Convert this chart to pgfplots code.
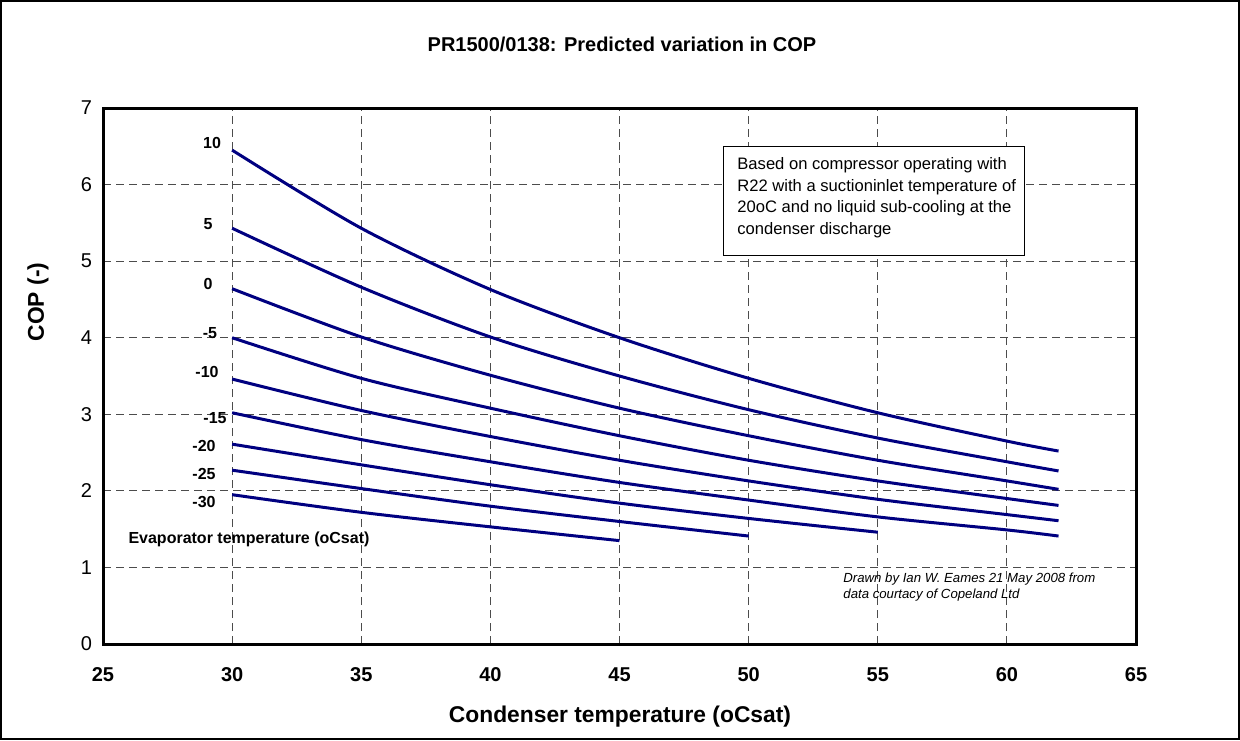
\documentclass[border=0pt]{standalone}
\usepackage{pgfplots}
\pgfplotsset{compat=1.18}
\usepackage{fontspec}
\setmainfont{Liberation Sans}
\definecolor{navy}{RGB}{0,0,128}
\begin{document}
\begin{tikzpicture}[x=1pt,y=1pt]
\useasboundingbox (0,0) rectangle (620,370);
\draw[line width=1pt] (0.5,0.5) rectangle (619.5,369.5);
\begin{axis}[
  at={(51.5pt,48pt)}, anchor=south west,
  scale only axis, width=516.5pt, height=268pt,
  xmin=25, xmax=65, ymin=0, ymax=7,
  xtick={25,30,...,65}, ytick={0,1,...,7},
  grid=major,
  major grid style={black!70, line width=0.5pt, dash pattern=on 4pt off 2.5pt},
  axis line style={line width=1.5pt},
  tick style={draw=none},
  /pgf/number format/assume math mode=true,
  yticklabel style={font=\fontsize{10}{12}\selectfont, xshift=-2pt},
  xticklabel style={font=\bfseries\fontsize{10}{12}\selectfont, text height=7.2pt, text depth=0pt, yshift=-8pt},
  clip=false,
]
\addplot[navy, line width=1.5pt, smooth] coordinates {(30,6.45) (35,5.43) (40,4.63) (45,4.00) (50,3.47) (55,3.02) (60,2.65) (62,2.52)};
\addplot[navy, line width=1.5pt, smooth] coordinates {(30,5.43) (35,4.66) (40,4.01) (45,3.50) (50,3.06) (55,2.69) (60,2.38) (62,2.26)};
\addplot[navy, line width=1.5pt, smooth] coordinates {(30,4.64) (35,4.01) (40,3.51) (45,3.08) (50,2.72) (55,2.40) (60,2.13) (62,2.02)};
\addplot[navy, line width=1.5pt, smooth] coordinates {(30,4.00) (35,3.47) (40,3.08) (45,2.72) (50,2.40) (55,2.13) (60,1.90) (62,1.81)};
\addplot[navy, line width=1.5pt, smooth] coordinates {(30,3.46) (35,3.05) (40,2.71) (45,2.40) (50,2.13) (55,1.89) (60,1.69) (62,1.61)};
\addplot[navy, line width=1.5pt, smooth] coordinates {(30,3.02) (35,2.67) (40,2.38) (45,2.11) (50,1.88) (55,1.66) (60,1.49) (62,1.41)};
\addplot[navy, line width=1.5pt, smooth] coordinates {(30,2.61) (35,2.34) (40,2.08) (45,1.84) (50,1.64) (55,1.46)};
\addplot[navy, line width=1.5pt, smooth] coordinates {(30,2.27) (35,2.03) (40,1.80) (45,1.60) (50,1.41)};
\addplot[navy, line width=1.5pt, smooth] coordinates {(30,1.95) (35,1.72) (40,1.53) (45,1.35)};
\end{axis}
% titles
\node[font=\bfseries\fontsize{10}{12}\selectfont] at (311,348) {PR1500/0138: Predicted variation in COP};
\node[font=\bfseries\fontsize{11.4}{13}\selectfont, rotate=90] at (19,219) {COP (-)};
\node[font=\bfseries\fontsize{11.4}{13}\selectfont] at (310,11.5) {Condenser temperature (oCsat)};
% curve labels
\begin{scope}[every node/.style={font=\bfseries\fontsize{8}{9}\selectfont, inner sep=0pt}]
\node at (106,298.5) {10};
\node at (104,258) {5};
\node at (104,228) {0};
\node at (105,203.5) {-5};
\node at (103.5,184) {-10};
\node at (107.5,161) {-15};
\node at (102,147) {-20};
\node at (102,133) {-25};
\node at (102,119) {-30};
\node at (124.5,100.5) {Evaporator temperature (oCsat)};
\end{scope}
% text box
\draw[fill=white, line width=0.5pt] (361.5,296.5) rectangle (512,242);
\node[anchor=north west, align=left, inner sep=0pt, font=\fontsize{8.3}{10.8}\selectfont] at (368.5,291.5) {Based on compressor operating with\\R22 with a suctioninlet temperature of\\20oC and no liquid sub-cooling at the\\condenser discharge};
\node[anchor=north west, align=left, inner sep=0pt, font=\itshape\fontsize{6.6}{8}\selectfont] at (421.5,83.5) {Drawn by Ian W. Eames 21 May 2008 from\\data courtacy of Copeland Ltd};
\end{tikzpicture}
\end{document}
